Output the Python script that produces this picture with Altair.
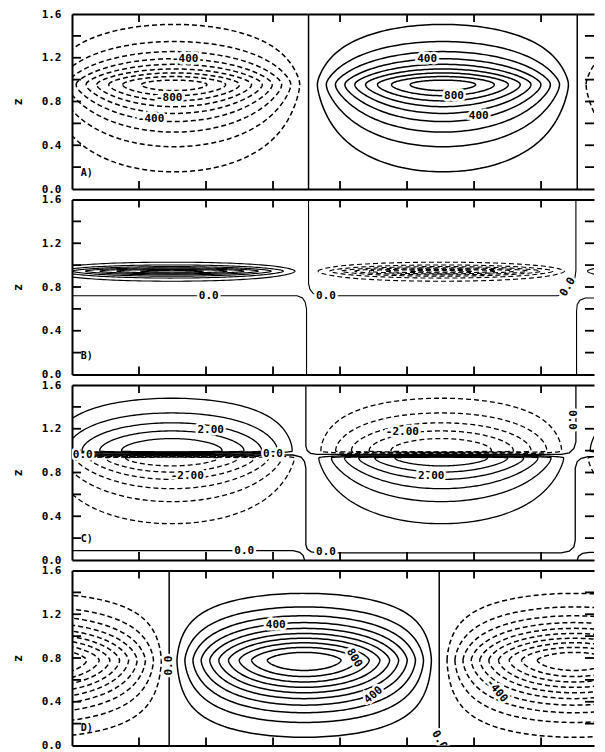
import numpy as np
import pandas as pd
import altair as alt

# ---------------- axes ----------------
X_DOMAIN = [0.0, 7.79]
Z_DOMAIN = [0.0, 1.6]
Z_LABELS = [0.0, 0.4, 0.8, 1.2, 1.6]
Z_TICKS_MAJOR = [0.4, 0.8, 1.2]
Z_TICKS_MINOR = [0.2, 0.6, 1.0, 1.4]
X_TICKS_MAJOR = [2, 4, 6]
X_TICKS_MINOR = [1, 3, 5, 7]

# vertical profile of each lobe: [decay length, tip rounding, power] above / below the centre

# ---------------- panel A (cells of alternating sign, peak near z=0.95) ----------------
A_CELL_X0 = [-0.48, 3.53, 7.54]
A_CELL_W = 4.01
A_CELL_SIGN = [-1, 1, -1]
A_LEVELS = [1, 2, 3, 4, 5, 6, 7, 8, 9]          # x100
A_PEAK = 9.7
A_ZC = 0.955
A_UP = [0.225, 0.04, 1.0]
A_DOWN = [0.33, 0.05, 1.0]
A_ZERO_LINES = [[(3.53, 0.0), (3.53, 1.6)], [(7.54, 0.0), (7.54, 1.6)]]
A_LABEL_TEXT = ["-400", "-800", "-400", "400", "800", "400"]
A_LABEL_X = [1.69, 1.45, 1.18, 5.30, 5.70, 6.07]
A_LABEL_Z = [1.19, 0.83, 0.64, 1.19, 0.85, 0.67]
A_LABEL_ANGLE = [0, 0, 0, 0, 0, 0]

# ---------------- panel B (thin lenses at z~0.95) ----------------
B_CELL_X0 = [-0.52, 3.50, 7.52]
B_CELL_W = 4.02
B_CELL_SIGN = [1, -1, 1]
B_LEVELS = [1, 2, 3, 4, 5, 6, 7]
B_PEAK = 7.5
B_ZC = 0.945
B_UP = [0.036, 0.01, 1.0]
B_DOWN = [0.041, 0.01, 1.0]
B_ZERO_LINES = [
    [(0.0, 0.72), (3.36, 0.72), (3.44, 0.70), (3.48, 0.66), (3.50, 0.60), (3.50, 0.0)],
    [(3.53, 1.6), (3.53, 0.83), (3.55, 0.78), (3.60, 0.74), (3.70, 0.72), (7.25, 0.72),
     (7.36, 0.75), (7.44, 0.80), (7.50, 0.86), (7.52, 0.95), (7.52, 1.6)],
    [(8.0, 0.70), (7.66, 0.70), (7.58, 0.68), (7.54, 0.64), (7.53, 0.58), (7.53, 0.0)],
]
B_LABEL_TEXT = ["0.0", "0.0", "0.0"]
B_LABEL_X = [2.04, 3.79, 7.40]
B_LABEL_Z = [0.72, 0.72, 0.80]
B_LABEL_ANGLE = [0, 0, 300]

# ---------------- panel C (two lobes of opposite sign per cell) ----------------
C_CELL_X0 = [-0.52, 3.50, 7.52]
C_CELL_W = 4.02
C_UPPER_SIGN = [1, -1, 1]
C_UPPER_LEVELS = [1, 2, 3, 4, 5]
C_UPPER_PEAK = 6.0
C_UPPER_ZC = 0.995
C_UPPER_UP = [0.30, 0.03, 1.4]
C_UPPER_DOWN = [0.015, 0.005, 1.0]
C_LOWER_SIGN = [-1, 1, -1]
C_LOWER_LEVELS = [1, 2, 3, 4, 5, 6]
C_LOWER_PEAK = 7.0
C_LOWER_ZC = 0.935
C_LOWER_UP = [0.013, 0.005, 1.0]
C_LOWER_DOWN = [0.29, 0.04, 1.0]
C_ZERO_LINES = [
    [(3.49, 1.6), (3.49, 1.04), (3.51, 1.0), (3.56, 0.975), (3.65, 0.965), (7.30, 0.965),
     (7.42, 0.98), (7.49, 1.02), (7.52, 1.08), (7.52, 1.6)],
    [(0.0, 0.96), (3.30, 0.96), (3.42, 0.94), (3.47, 0.90), (3.49, 0.84), (3.49, 0.14),
     (3.51, 0.10), (3.57, 0.075), (3.68, 0.065), (7.30, 0.065), (7.42, 0.08), (7.49, 0.12),
     (7.51, 0.18), (7.51, 0.84), (7.54, 0.90), (7.60, 0.93), (7.70, 0.945), (8.0, 0.945)],
    [(0.0, 0.085), (3.30, 0.085), (3.40, 0.07), (3.45, 0.04), (3.47, 0.0)],
    [(7.54, 0.0), (7.56, 0.035), (7.62, 0.06), (7.72, 0.07), (8.0, 0.07)],
]
C_LABEL_TEXT = ["2.00", "-2.00", "0.0", "0.0", "0.0", "-2.00", "2.00", "0.0", "0.0"]
C_LABEL_X = [2.07, 1.72, 0.16, 3.00, 2.57, 4.93, 5.36, 3.79, 7.46]
C_LABEL_Z = [1.19, 0.77, 0.96, 0.965, 0.085, 1.17, 0.77, 0.07, 1.28]
C_LABEL_ANGLE = [0, 0, 0, 0, 0, 0, 0, 0, 90]

# ---------------- panel D ----------------
D_CELL_X0 = [-2.58, 1.45, 5.48]
D_CELL_W = 4.03
D_CELL_SIGN = [-1, 1, -1]
D_LEVELS = [1, 2, 3, 4, 5, 6, 7, 8, 9, 10]
D_PEAK = 11.0
D_ZC = 0.78
D_UP = [0.341, 0.0, 1.5]
D_DOWN = [0.408, 0.0, 1.6]
D_ZERO_LINES = [[(1.45, 0.0), (1.45, 1.6)], [(5.48, 0.0), (5.48, 1.6)]]
D_LABEL_TEXT = ["400", "800", "400", "0.0", "0.0", "-400"]
D_LABEL_X = [3.04, 4.21, 4.50, 1.45, 5.48, 6.34]
D_LABEL_Z = [1.10, 0.80, 0.46, 0.73, 0.05, 0.50]
D_LABEL_ANGLE = [0, 60, 320, 270, 60, 50]

PANEL_TAGS = ["A)", "B)", "C)", "D)"]
PANEL_TAG_Z = [0.15, 0.17, 0.19, 0.16]

FONT = "DejaVu Sans Mono"
W, H = 522, 175


def side(q, prm):
    lam, e, p = prm
    t = lam * q ** (1.0 / p) + e
    return np.sqrt(np.maximum(t * t - e * e, 0.0))


def lobe_rings(x0, width, sign, zc, up, down, peak, levels, tag):
    rows = []
    if x0 + width < X_DOMAIN[0] or x0 > X_DOMAIN[1]:
        return rows
    s = np.linspace(0.0, 1.0, 100)
    for c in levels:
        r0 = c / peak
        umin = np.arcsin(r0)
        u = umin + (np.pi - 2 * umin) * (1 - np.cos(np.pi * s)) / 2
        q = -np.log(np.clip(r0 / np.sin(u), 1e-12, 1.0))
        zt = zc + side(q, up)
        zb = zc - side(q, down)
        xx = x0 + width * u / np.pi
        xs = np.concatenate([xx, xx[::-1]])
        zs = np.concatenate([zt, zb[::-1]])
        rid = f"{tag}_{c}"
        for i, (a, b) in enumerate(zip(xs, zs)):
            rows.append(dict(x=float(a), z=float(b), ring=rid, order=i,
                             dashed=bool(sign < 0)))
    return rows


def zero_rows(lines, tag):
    rows = []
    for j, line in enumerate(lines):
        for i, (a, b) in enumerate(line):
            rows.append(dict(x=a, z=b, ring=f"{tag}_zero{j}", order=i, dashed=False))
    return rows


XSCALE = alt.Scale(domain=X_DOMAIN, nice=False, zero=False)


def xenc(orient=None):
    if orient is None:
        return alt.X("x:Q", scale=XSCALE, axis=None)
    return alt.X("x:Q", scale=XSCALE,
                 axis=alt.Axis(orient=orient, labels=False, ticks=False, grid=False, title=None,
                               domain=True, domainWidth=2, domainColor="black"))


def yenc():
    return alt.Y("z:Q", scale=alt.Scale(domain=Z_DOMAIN, nice=False, zero=False),
                 axis=alt.Axis(values=Z_LABELS, format=".1f", ticks=False, domain=True,
                               domainWidth=2, domainColor="black",
                               grid=False, labelPadding=11, title="z", titlePadding=17))


def panel(rows, labels, tag, tag_z, width_line=1.5):
    df = pd.DataFrame(rows)
    solid = df[~df.dashed]
    dashed = df[df.dashed]
    lab = pd.DataFrame(labels)
    layers = []
    layers.append(alt.Chart(solid).mark_line(clip=True, color="black", strokeWidth=width_line)
                  .encode(x=xenc("bottom"), y=yenc(), detail="ring:N", order="order:Q"))
    if len(dashed):
        layers.append(alt.Chart(dashed).mark_line(clip=True, color="black", strokeWidth=width_line,
                                                  strokeDash=[5, 3])
                      .encode(x=xenc(), y=yenc(), detail="ring:N", order="order:Q"))
    # inward ticks
    zt = pd.DataFrame({"z": Z_TICKS_MAJOR + Z_TICKS_MINOR})
    xt = pd.DataFrame({"x": X_TICKS_MAJOR + X_TICKS_MINOR})
    layers.append(alt.Chart(zt).mark_rule(color="black", strokeWidth=1.8)
                  .encode(y=yenc(), x=alt.value(0), x2=alt.value(9)))
    layers.append(alt.Chart(zt).mark_rule(color="black", strokeWidth=1.8)
                  .encode(y=yenc(), x=alt.value(W - 9), x2=alt.value(W)))
    layers.append(alt.Chart(xt).mark_rule(color="black", strokeWidth=1.8)
                  .encode(x=xenc("top"), y=alt.value(0), y2=alt.value(8)))
    layers.append(alt.Chart(xt).mark_rule(color="black", strokeWidth=1.8)
                  .encode(x=xenc(), y=alt.value(H - 8), y2=alt.value(H)))
    # contour labels: white halo, then text
    tx = dict(font=FONT, fontSize=11, fontWeight="bold", clip=True)
    layers.append(alt.Chart(lab).mark_text(stroke="white", strokeWidth=5, fill="white", **tx)
                  .encode(x=xenc(), y=yenc(), text="text:N",
                          angle=alt.Angle("angle:Q", scale=None)))
    layers.append(alt.Chart(lab).mark_text(color="black", **tx)
                  .encode(x=xenc(), y=yenc(), text="text:N",
                          angle=alt.Angle("angle:Q", scale=None)))
    tagdf = pd.DataFrame({"x": [0.13], "z": [tag_z], "text": [tag]})
    layers.append(alt.Chart(tagdf).mark_text(color="black", align="left", font=FONT, fontSize=10,
                                             fontWeight="bold", clip=True)
                  .encode(x=xenc(), y=yenc(), text="text:N"))
    return (alt.layer(*layers).resolve_axis(x="independent")
            .properties(width=W, height=H))


def labels_of(texts, xs, zs, angles):
    return [dict(text=t, x=a, z=b, angle=g) for t, a, b, g in zip(texts, xs, zs, angles)]


rows_a = []
for k, (x0, sg) in enumerate(zip(A_CELL_X0, A_CELL_SIGN)):
    rows_a += lobe_rings(x0, A_CELL_W, sg, A_ZC, A_UP, A_DOWN, A_PEAK, A_LEVELS, f"a{k}")
rows_a += zero_rows(A_ZERO_LINES, "a")

rows_b = []
for k, (x0, sg) in enumerate(zip(B_CELL_X0, B_CELL_SIGN)):
    rows_b += lobe_rings(x0, B_CELL_W, sg, B_ZC, B_UP, B_DOWN, B_PEAK, B_LEVELS, f"b{k}")
rows_b += zero_rows(B_ZERO_LINES, "b")

rows_c = []
for k, x0 in enumerate(C_CELL_X0):
    rows_c += lobe_rings(x0, C_CELL_W, C_UPPER_SIGN[k], C_UPPER_ZC, C_UPPER_UP, C_UPPER_DOWN,
                         C_UPPER_PEAK, C_UPPER_LEVELS, f"cu{k}")
    rows_c += lobe_rings(x0, C_CELL_W, C_LOWER_SIGN[k], C_LOWER_ZC, C_LOWER_UP, C_LOWER_DOWN,
                         C_LOWER_PEAK, C_LOWER_LEVELS, f"cl{k}")
rows_c += zero_rows(C_ZERO_LINES, "c")

rows_d = []
for k, (x0, sg) in enumerate(zip(D_CELL_X0, D_CELL_SIGN)):
    rows_d += lobe_rings(x0, D_CELL_W, sg, D_ZC, D_UP, D_DOWN, D_PEAK, D_LEVELS, f"d{k}")
rows_d += zero_rows(D_ZERO_LINES, "d")

pa = panel(rows_a, labels_of(A_LABEL_TEXT, A_LABEL_X, A_LABEL_Z, A_LABEL_ANGLE),
           PANEL_TAGS[0], PANEL_TAG_Z[0])
pb = panel(rows_b, labels_of(B_LABEL_TEXT, B_LABEL_X, B_LABEL_Z, B_LABEL_ANGLE),
           PANEL_TAGS[1], PANEL_TAG_Z[1], width_line=1.1)
pc = panel(rows_c, labels_of(C_LABEL_TEXT, C_LABEL_X, C_LABEL_Z, C_LABEL_ANGLE),
           PANEL_TAGS[2], PANEL_TAG_Z[2], width_line=1.3)
pd_ = panel(rows_d, labels_of(D_LABEL_TEXT, D_LABEL_X, D_LABEL_Z, D_LABEL_ANGLE),
            PANEL_TAGS[3], PANEL_TAG_Z[3])

chart = (
    alt.vconcat(pa, pb, pc, pd_, spacing=10.5, bounds="flush")
    .properties(padding={"left": 3, "top": 0, "right": 0, "bottom": 0})
    .configure_view(strokeWidth=0)
    .configure_axis(labelFont=FONT, labelFontSize=11, labelFontWeight="bold", labelColor="black",
                    titleFont=FONT, titleFontSize=12, titleFontWeight="bold", titleColor="black")
)

chart.save("out.html", embed_options={"renderer": "svg", "actions": False})
